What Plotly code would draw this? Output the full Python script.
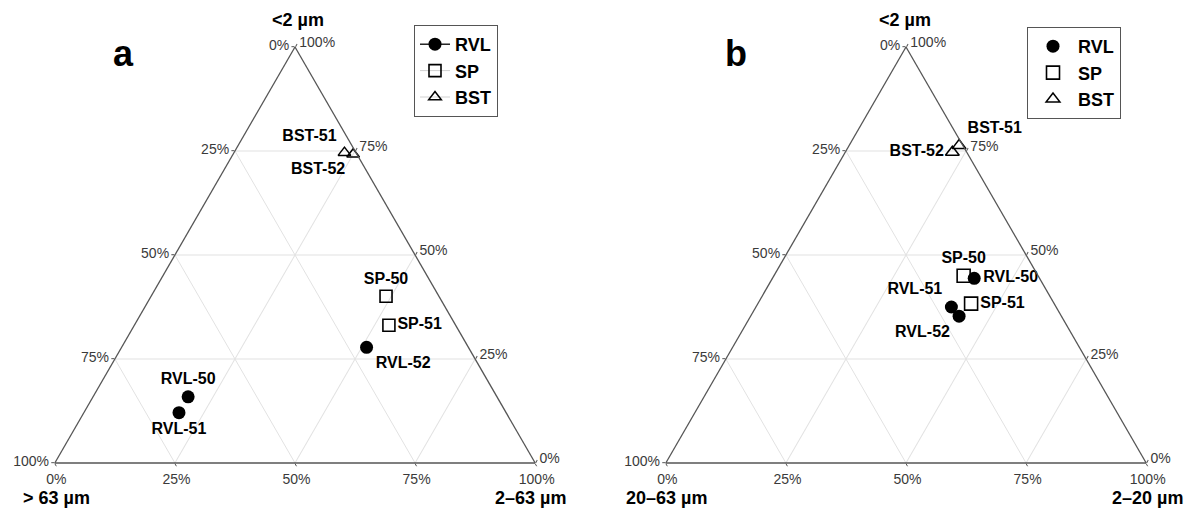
import plotly.graph_objects as go

W, H = 1187, 512
FONT = "Liberation Sans, Arial, sans-serif"

# ---------------- data (percent) ----------------
# Panel a: clay (<2 µm), sand (>63 µm), silt (2–63 µm)
rvl_a_labels = ["RVL-50", "RVL-51", "RVL-52"]
rvl_a_clay = [15.9, 12.1, 27.8]
rvl_a_sand = [64.3, 68.1, 21.2]
rvl_a_silt = [19.8, 19.8, 51.0]
rvl_a_pos = ["top center", "bottom center", "bottom right"]

sp_a_labels = ["SP-50", "SP-51"]
sp_a_clay = [40.1, 33.1]
sp_a_sand = [11.0, 13.9]
sp_a_silt = [48.9, 53.0]
sp_a_pos = ["top center", "middle right"]

bst_a_labels = ["BST-51", "BST-52"]
bst_a_clay = [74.6, 74.2]
bst_a_sand = [2.4, 0.8]
bst_a_silt = [23.0, 25.0]
bst_a_pos = ["top left", "bottom left"]

# Panel b: clay (<2 µm), coarse silt (20–63 µm), fine silt (2–20 µm)
rvl_b_labels = ["RVL-50", "RVL-51", "RVL-52"]
rvl_b_clay = [44.4, 37.5, 35.3]
rvl_b_coarse = [13.6, 21.8, 21.3]
rvl_b_fine = [42.0, 40.7, 43.4]
rvl_b_pos = ["middle right", "top left", "bottom left"]

sp_b_labels = ["SP-50", "SP-51"]
sp_b_clay = [45.0, 38.3]
sp_b_coarse = [15.5, 17.3]
sp_b_fine = [39.5, 44.4]
sp_b_pos = ["top center", "middle right"]

bst_b_labels = ["BST-51", "BST-52"]
bst_b_clay = [76.3, 74.7]
bst_b_coarse = [0.8, 3.0]
bst_b_fine = [22.9, 22.3]
bst_b_pos = ["top right", "middle left"]

tick_vals = [0, 25, 50, 75, 100]
tick_text = ["100%", "75%", "50%", "25%", "0%"]


def gapped(seq, fill=None):
    out = []
    for i, v in enumerate(seq):
        if i:
            out.append(fill)
        out.append(v)
    return out


fig = go.Figure()

label_font = dict(family=FONT, size=16, color="black", weight="bold")

series_a = [
    ("RVL", rvl_a_clay, rvl_a_sand, rvl_a_silt, rvl_a_labels, rvl_a_pos,
     dict(symbol="circle", size=13, color="black"), dict(color="black", width=1.3)),
    ("SP", sp_a_clay, sp_a_sand, sp_a_silt, sp_a_labels, sp_a_pos,
     dict(symbol="square-open", size=12, color="black", line=dict(width=1.6)), dict(color="#d0d0d0", width=1)),
    ("BST", bst_a_clay, bst_a_sand, bst_a_silt, bst_a_labels, bst_a_pos,
     dict(symbol="triangle-up-open", size=11, color="black", line=dict(width=1.5)), dict(color="#d0d0d0", width=1)),
]
for name, aa, bb, cc, txt, pos, mk, ln in series_a:
    fig.add_trace(go.Scatterternary(
        a=gapped(aa), b=gapped(bb), c=gapped(cc),
        text=gapped(txt, ""), textposition=gapped(pos, "top center"),
        mode="lines+markers+text", name=name, marker=mk, line=ln,
        textfont=label_font, subplot="ternary", legend="legend",
        connectgaps=False, cliponaxis=False,
    ))

series_b = [
    ("RVL", rvl_b_clay, rvl_b_coarse, rvl_b_fine, rvl_b_labels, rvl_b_pos,
     dict(symbol="circle", size=13, color="black")),
    ("SP", sp_b_clay, sp_b_coarse, sp_b_fine, sp_b_labels, sp_b_pos,
     dict(symbol="square-open", size=13, color="black", line=dict(width=1.6))),
    ("BST", bst_b_clay, bst_b_coarse, bst_b_fine, bst_b_labels, bst_b_pos,
     dict(symbol="triangle-up-open", size=12, color="black", line=dict(width=1.5))),
]
for name, aa, bb, cc, txt, pos, mk in series_b:
    fig.add_trace(go.Scatterternary(
        a=aa, b=bb, c=cc, text=txt, textposition=pos,
        mode="markers+text", name=name, marker=mk,
        textfont=label_font, subplot="ternary2", legend="legend2",
        cliponaxis=False,
    ))

axis = dict(
    tickmode="array", tickvals=tick_vals, ticktext=tick_text,
    showline=True, linecolor="#555555", linewidth=1.3,
    showgrid=True, gridcolor="#e2e2e2", gridwidth=1,
    ticks="outside", ticklen=3, tickcolor="#555555",
    tickfont=dict(family=FONT, size=14, color="#3a3a3a"),
    title=dict(text=""),
)

ydom = [1 - (255 + 208) / H, 1 - (255 - 208) / H]
legend_font = dict(family=FONT, size=18, color="black", weight="bold")
fig.update_layout(
    width=W, height=H, autosize=False,
    margin=dict(l=0, r=0, t=0, b=0),
    paper_bgcolor="white",
    font=dict(family=FONT),
    ternary=dict(domain=dict(x=[(295 - 270) / W, (295 + 270) / W], y=ydom),
                 sum=100, bgcolor="white", aaxis=axis, baxis=axis, caxis=axis),
    ternary2=dict(domain=dict(x=[(906 - 270) / W, (906 + 270) / W], y=ydom),
                  sum=100, bgcolor="white", aaxis=axis, baxis=axis, caxis=axis),
    legend=dict(x=414 / W, y=1 - 25 / H, xanchor="left", yanchor="top",
                bgcolor="white", bordercolor="#555555", borderwidth=1,
                font=legend_font, itemwidth=30, tracegroupgap=0),
    legend2=dict(x=1027 / W, y=1 - 27 / H, xanchor="left", yanchor="top",
                 bgcolor="white", bordercolor="#555555", borderwidth=1,
                 font=legend_font, itemwidth=40, tracegroupgap=0),
    showlegend=True,
)

ann = [
    ("a", 124, 53, 36, "center"),
    ("b", 736, 53, 36, "center"),
    ("<2 µm", 298, 20, 18, "center"),
    ("> 63 µm", 56, 498, 18, "center"),
    ("2–63 µm", 530, 498, 18, "center"),
    ("<2 µm", 905, 20, 18, "center"),
    ("20–63 µm", 666, 498, 18, "center"),
    ("2–20 µm", 1185, 498, 18, "right"),
]
for t, x, y, s, xa in ann:
    fig.add_annotation(text=t, x=x / W, y=1 - y / H, xref="paper", yref="paper",
                       xanchor=xa, yanchor="middle", showarrow=False,
                       font=dict(family=FONT, size=s, color="black", weight="bold"))

fig.write_html("out.html")
